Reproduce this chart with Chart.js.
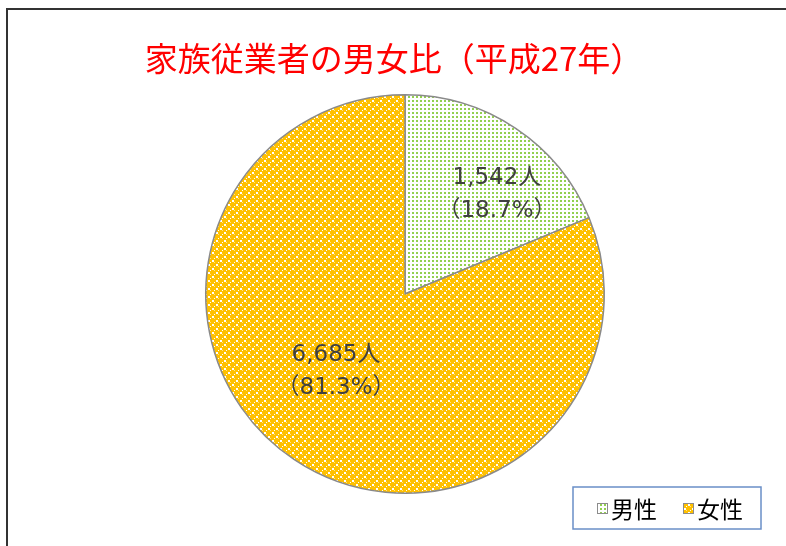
<!DOCTYPE html>
<html>
<head>
<meta charset="utf-8">
<script src="https://cdn.jsdelivr.net/npm/chart.js@4.4.1/dist/chart.umd.min.js"></script>
<style>
  html, body { margin: 0; padding: 0; background: #fff; }
  #wrap { position: relative; width: 786px; height: 546px; }
  #frame { position: absolute; left: 6px; top: 8px; right: -4px; bottom: -4px; border: 2px solid #333; pointer-events: none; }
</style>
</head>
<body>
<div id="wrap">
  <canvas id="genderChart" width="786" height="546"></canvas>
  <div id="frame"></div>
</div>
<script>
// Chart data
const categories = ["男性", "女性"];
const people = [1542, 6685];
const chartTitle = "家族従業者の男女比（平成27年）";

const FONT = "'Noto Sans CJK JP', 'Noto Sans', sans-serif";
const LABEL_FONT = "'DejaVu Sans', 'Noto Sans CJK JP', sans-serif";

// Small tile patterns like the Excel fills
function makeGreenPattern(ctx) {
  const c = document.createElement("canvas");
  c.width = 4;
  c.height = 4;
  const g = c.getContext("2d");
  g.fillStyle = "#ffffff";
  g.fillRect(0, 0, 4, 4);
  g.fillStyle = "#92d050";
  g.fillRect(0, 0, 2, 2);
  return ctx.createPattern(c, "repeat");
}

function makeOrangePattern(ctx) {
  const c = document.createElement("canvas");
  c.width = 8;
  c.height = 8;
  const g = c.getContext("2d");
  g.fillStyle = "#ffc000";
  g.fillRect(0, 0, 8, 8);
  g.fillStyle = "#ffffff";
  g.fillRect(0, 0, 2, 2);
  g.fillRect(4, 4, 2, 2);
  g.fillRect(2, 6, 1, 1);
  g.fillRect(6, 2, 1, 1);
  g.fillStyle = "#ffe08a";
  g.fillRect(2, 2, 1, 1);
  g.fillRect(6, 6, 1, 1);
  return ctx.createPattern(c, "repeat");
}

// Title drawn by hand so it is not squeezed into the pie's box
const titlePlugin = {
  id: "titlePlugin",
  afterDraw(chart) {
    const ctx = chart.ctx;
    ctx.save();
    ctx.fillStyle = "#ff0000";
    ctx.font = "33px " + FONT;
    ctx.textAlign = "center";
    ctx.textBaseline = "middle";
    ctx.fillText(chartTitle, 394, 58);
    ctx.restore();
  },
};

// Label placement per slice: radius fraction and angle shift (degrees)
const labelPlacement = [
  { r: 0.68, shift: 9 },
  { r: 0.52, shift: 8 },
];

const sliceLabels = {
  id: "sliceLabels",
  afterDatasetsDraw(chart) {
    const ctx = chart.ctx;
    const meta = chart.getDatasetMeta(0);
    const data = chart.data.datasets[0].data;
    const total = data.reduce((a, b) => a + b, 0);
    ctx.save();
    ctx.fillStyle = "#404040";
    ctx.font = "23px " + LABEL_FONT;
    ctx.textAlign = "center";
    ctx.textBaseline = "middle";
    meta.data.forEach((arc, i) => {
      const p = arc.getProps(["x", "y", "startAngle", "endAngle", "outerRadius"], true);
      const place = labelPlacement[i];
      const mid = (p.startAngle + p.endAngle) / 2 + (place.shift * Math.PI) / 180;
      const x = p.x + Math.cos(mid) * p.outerRadius * place.r;
      const y = p.y + Math.sin(mid) * p.outerRadius * place.r;
      const pct = ((data[i] / total) * 100).toFixed(1);
      ctx.fillText(data[i].toLocaleString("en-US") + "人", x, y - 16);
      ctx.fillText("（" + pct + "%）", x, y + 17);
    });
    ctx.restore();
  },
};

// Boxed legend at bottom right
const boxLegend = {
  id: "boxLegend",
  afterDraw(chart) {
    const ctx = chart.ctx;
    const ds = chart.data.datasets[0];
    ctx.save();
    ctx.fillStyle = "#ffffff";
    ctx.fillRect(573, 487, 188, 42);
    ctx.strokeStyle = "#6a8fc7";
    ctx.lineWidth = 1.5;
    ctx.strokeRect(573, 487, 188, 42);
    ctx.font = "23px " + FONT;
    ctx.textBaseline = "middle";
    let x = 597;
    chart.data.labels.forEach((lab, i) => {
      ctx.fillStyle = ds.backgroundColor[i];
      ctx.fillRect(x, 503, 10, 10);
      ctx.strokeStyle = "#8c8c8c";
      ctx.lineWidth = 1;
      ctx.strokeRect(x + 0.5, 503.5, 10, 10);
      ctx.fillStyle = "#000000";
      ctx.textAlign = "left";
      ctx.fillText(lab, x + 14, 509);
      x += ctx.measureText(lab).width + 40;
    });
    ctx.restore();
  },
};

document.addEventListener("DOMContentLoaded", function () {
  const canvas = document.getElementById("genderChart");
  const ctx = canvas.getContext("2d");

  new Chart(ctx, {
    type: "pie",
    data: {
      labels: categories,
      datasets: [
        {
          data: people,
          backgroundColor: [makeGreenPattern(ctx), makeOrangePattern(ctx)],
          borderColor: "#8a8a8a",
          borderWidth: 1.5,
        },
      ],
    },
    options: {
      responsive: false,
      animation: false,
      layout: {
        padding: { left: 24, right: 0, top: 94, bottom: 52 },
      },
      plugins: {
        legend: { display: false },
        tooltip: { enabled: false },
        title: { display: false },
      },
    },
    plugins: [sliceLabels, boxLegend, titlePlugin],
  });
});
</script>
</body>
</html>
